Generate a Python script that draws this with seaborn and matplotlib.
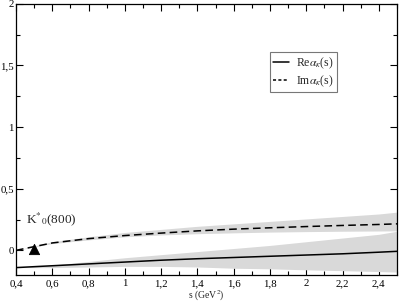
import numpy as np
import pandas as pd
import matplotlib
matplotlib.use("Agg")
import matplotlib.pyplot as plt
import seaborn as sns
from matplotlib.ticker import MultipleLocator, FuncFormatter

s_vals = [0.4, 0.6, 0.8, 1.0, 1.2, 1.4, 1.6, 1.8, 2.0, 2.2, 2.4, 2.5]
re_alpha = [-0.14, -0.125, -0.11, -0.095, -0.08, -0.068, -0.058, -0.048, -0.038, -0.028, -0.015, -0.008]
re_upper = [-0.14, -0.12, -0.09, -0.06, -0.035, -0.01, 0.015, 0.04, 0.07, 0.10, 0.13, 0.155]
re_lower = [-0.14, -0.14, -0.135, -0.13, -0.13, -0.135, -0.145, -0.15, -0.158, -0.165, -0.172, -0.176]
im_alpha = [0.0, 0.06, 0.095, 0.12, 0.14, 0.158, 0.172, 0.183, 0.193, 0.202, 0.21, 0.215]
im_upper = [0.0, 0.07, 0.11, 0.145, 0.17, 0.195, 0.215, 0.235, 0.255, 0.275, 0.295, 0.31]
im_lower = [0.0, 0.055, 0.085, 0.11, 0.125, 0.135, 0.142, 0.148, 0.152, 0.155, 0.157, 0.158]
pole_s = [0.5]
pole_y = [0.01]
series_labels = [r"Re$\alpha_{\kappa}$(s)", r"Im$\alpha_{\kappa}$(s)"]

sns.set_style("ticks")
plt.rcParams["font.family"] = ["Liberation Serif", "DejaVu Serif"]
plt.rcParams["mathtext.fontset"] = "stix"

fig = plt.figure(figsize=(3.99, 3.02), dpi=100)
ax = fig.add_axes([0.040, 0.0894, 0.955, 0.898])

band = "#d9d9d9"
ax.fill_between(s_vals, re_lower, re_upper, color=band, lw=0, zorder=1)
ax.fill_between(s_vals, im_lower, im_upper, color=band, lw=0, zorder=1)

df = pd.DataFrame({"s": s_vals, "re": re_alpha, "im": im_alpha})
sns.lineplot(data=df, x="s", y="re", ax=ax, color="black", lw=1.1,
             label=series_labels[0], zorder=3)
sns.lineplot(data=df, x="s", y="im", ax=ax, color="black", lw=1.1,
             linestyle=(0, (5.0, 2.8)), label=series_labels[1], zorder=3)
for ln in ax.get_lines():
    if ln.get_label() == series_labels[1]:
        ln.set_linestyle((0, (5.0, 2.8)))

sns.scatterplot(x=pole_s, y=pole_y, ax=ax, marker="^", s=55, color="black",
                edgecolor="black", zorder=4, legend=False)

ax.text(0.455, 0.25, r"K$^{*}$$_{0}$(800)", fontsize=9.5, va="center", ha="left")

ax.set_xlim(0.4, 2.5)
ax.set_ylim(-0.2, 2.0)
ax.xaxis.set_major_locator(MultipleLocator(0.2))
ax.xaxis.set_minor_locator(MultipleLocator(0.1))
ax.yaxis.set_major_locator(MultipleLocator(0.5))
ax.yaxis.set_minor_locator(MultipleLocator(0.25))

def fmt(v, pos):
    t = f"{v:.1f}".rstrip("0").rstrip(".")
    if t == "-0":
        t = "0"
    return t.replace(".", ",")

ax.xaxis.set_major_formatter(FuncFormatter(fmt))
ax.yaxis.set_major_formatter(FuncFormatter(fmt))
ax.tick_params(which="both", direction="in", top=True, right=True,
               labelsize=7.8, width=0.8, colors="black")
ax.tick_params(axis="y", pad=1.5)
ax.tick_params(axis="x", pad=3)
ax.tick_params(which="major", length=5)
ax.tick_params(which="minor", length=3)
for sp in ax.spines.values():
    sp.set_visible(True)
    sp.set_linewidth(0.9)
    sp.set_color("black")

ax.set_xlabel("")
ax.set_ylabel("")
fig.text(0.517, 0.022, r"s (GeV$^{2}$)", fontsize=7, ha="center", va="center")

leg = ax.legend(loc="upper left", bbox_to_anchor=(0.666, 0.823), fontsize=8.5,
                frameon=True, fancybox=False, edgecolor="#555555",
                handlelength=1.3, handletextpad=0.6, borderpad=0.3,
                labelspacing=0.2, borderaxespad=0)
leg.get_frame().set_linewidth(0.8)
for h in leg.get_lines():
    h.set_linewidth(1.1)
leg.get_lines()[1].set_linestyle((0, (2.0, 1.5)))

fig.savefig("out.png", dpi=100)
